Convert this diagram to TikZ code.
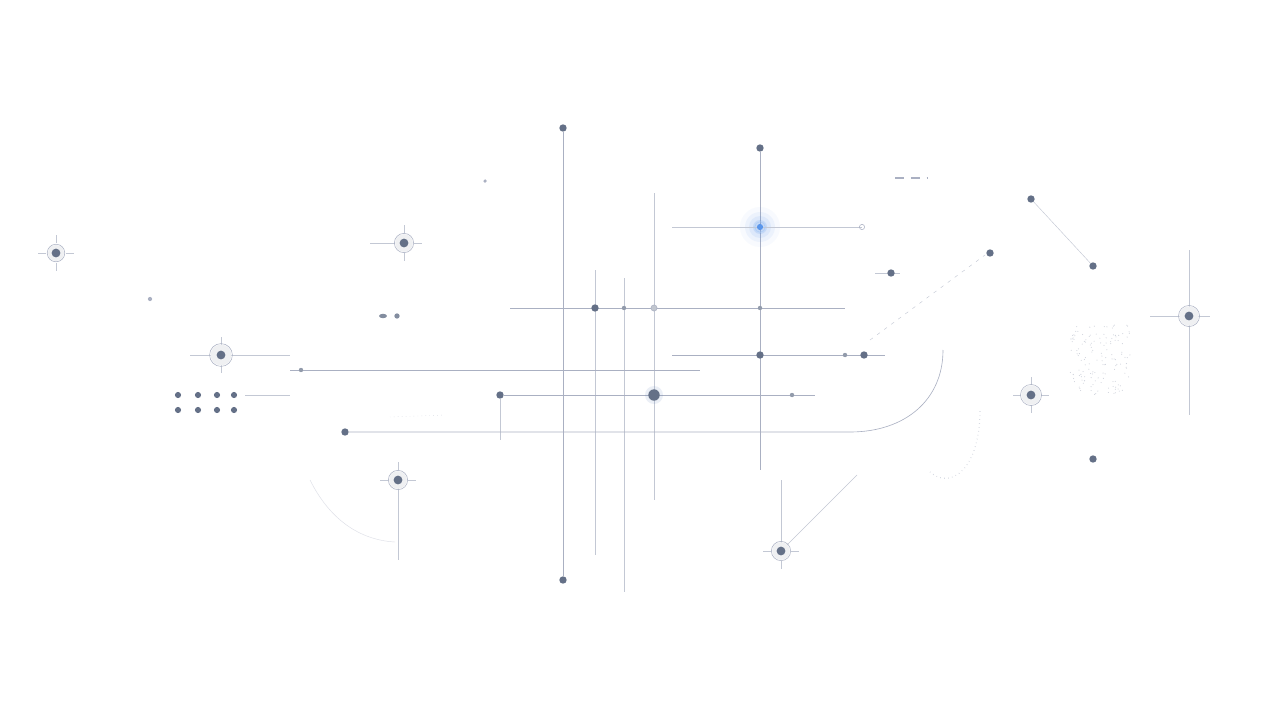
\documentclass[tikz,border=0pt]{standalone}
\usetikzlibrary{shapes.geometric}
\begin{document}
\begin{tikzpicture}[x=0.02cm,y=-0.02cm]
\definecolor{ln}{RGB}{170,176,194}
\definecolor{dt}{RGB}{100,112,135}
\definecolor{gl}{RGB}{90,150,235}
\tikzset{
 wire/.style={draw=ln,line width=0.35pt},
 faint/.style={draw=ln!70,line width=0.25pt},
 dot/.style={circle,fill=dt,inner sep=0pt,minimum size=#1},
 dot/.default=4.2pt,
 sdot/.style={circle,fill=dt!70,inner sep=0pt,minimum size=2.5pt},
 ring/.style={circle,draw=ln,line width=0.3pt,inner sep=0pt,minimum size=#1},
}
\useasboundingbox (0,0) rectangle (1280,720);
\fill[white] (0,0) rectangle (1280,720);
% long faint target lines first
\draw[faint] (1189,250)--(1189,415); \draw[faint] (1150,316)--(1210,316);
\draw[faint] (781,551)--(857,475); \draw[faint] (781,480)--(781,545);
\draw[faint] (398,480)--(398,560);
\draw[faint,draw=ln!40] (310,480) .. controls (330,520) and (360,540) .. (395,542);
\draw[faint] (221,355)--(290,355); \draw[faint] (190,355)--(210,355);
\draw[faint] (370,243)--(395,243);
% verticals
\node[dot] (v1t) at (563,128) {}; \node[dot] (v1b) at (563,580) {};
\draw[wire] (v1t) -- (v1b);
\node[dot] (v2t) at (760,148) {};
\coordinate (v2b) at (760,470);
\draw[wire] (v2t) -- (v2b);
\coordinate (a1) at (595,270); \coordinate (a2) at (595,555); \draw[faint] (a1)--(a2);
\coordinate (b1) at (624,278); \coordinate (b2) at (624,592); \draw[faint] (b1)--(b2);
\coordinate (c1) at (654,193); \coordinate (c2) at (654,500); \draw[faint] (c1)--(c2);
% glow
\foreach \r/\o in {20/0.04,15/0.07,11/0.1,7/0.18}{\fill[gl,opacity=\o] (760,227) circle (\r);}
\coordinate (h1a) at (672,227); \coordinate (h1b) at (862,227);
\draw[faint] (h1a)--(h1b);
\node[ring=6pt,draw=gl!50] at (760,227) {};
\node[circle,fill=gl,inner sep=0pt,minimum size=3.5pt] (g) at (760,227) {};
\node[ring=3pt] at (862,227) {};
% y=308
\coordinate (r1a) at (510,308); \coordinate (r1b) at (845,308); \draw[wire] (r1a)--(r1b);
\node[dot] at (595,308) {}; \node[sdot] at (624,308) {}; \node[ring=3.5pt,fill=dt!40] at (654,308) {}; \node[sdot] at (760,308) {};
% y=355
\coordinate (r2a) at (672,355); \coordinate (r2b) at (885,355); \draw[wire] (r2a)--(r2b);
\node[dot] at (760,355) {}; \node[dot] at (864,355) {}; \node[sdot] at (845,355) {};
% y=370
\coordinate (r3a) at (290,370); \coordinate (r3b) at (700,370); \draw[wire] (r3a)--(r3b);
\node[sdot] at (301,370) {};
% y=395
\node[dot] (d500) at (500,395) {}; \coordinate (r4b) at (815,395); \draw[wire] (d500)--(r4b);
\coordinate (v5b) at (500,440); \draw[faint] (d500)--(v5b);
\fill[gl!50!dt,opacity=0.12] (654,395) circle (9);
\node[dot=6.5pt] at (654,395) {}; \node[sdot] at (792,395) {};
% bottom line with curve
\node[dot] (d345) at (345,432) {};
\coordinate (cv) at (943,350);
\draw[wire] (d345) -- (850,432) .. controls (905,432) and (943,400) .. (cv);
\draw[faint,dash pattern=on 2pt off 3pt] (870,340) -- (985,255);
\draw[faint] (875,273) -- (900,273);
\node[dot] at (990,253) {}; \node[dot] (d891) at (891,273) {};
% diagonal pair
\node[dot] (e1) at (1031,199) {}; \node[dot] (e2) at (1093,266) {}; \draw[faint] (e1)--(e2);
% targets
\foreach \x/\y/\s in {1189/316/12,1031/395/12,781/551/11,398/480/11,221/355/13,404/243/11,56/253/10}{
 \draw[faint] (\x-18,\y)--(\x-10,\y); \draw[faint] (\x+10,\y)--(\x+18,\y);
 \draw[faint] (\x,\y-18)--(\x,\y-10); \draw[faint] (\x,\y+10)--(\x,\y+18);
 \fill[white] (\x,\y) circle (\s*0.8);
 \fill[dt,opacity=0.1] (\x,\y) circle (\s*0.8);
 \node[ring=\s pt] at (\x,\y) {}; \node[dot=5pt] at (\x,\y) {};}
\node[dot] at (1093,459) {};
% dot rows
\foreach \x in {178,198,217,234}{\node[dot=3.5pt] at (\x,395) {}; \node[dot=3.5pt] at (\x,410) {};}
\draw[faint] (245,395)--(290,395);
\node[ellipse,fill=dt!80,inner sep=0pt,minimum width=4.5pt,minimum height=2.5pt] at (383,316) {};
\node[ellipse,fill=dt!80,inner sep=0pt,minimum width=3pt,minimum height=3pt] at (397,316) {};
\draw[ln,line width=1pt,dash pattern=on 5pt off 4pt] (895,178)--(927,178);
% stipple cloud
\foreach \i in {1,...,140}{\pgfmathsetmacro\xx{1100+30*rand}\pgfmathsetmacro\yy{360+35*rand}
 \fill[ln!60] (\xx,\yy) circle (0.3pt);}
\draw[faint,dotted,line width=0.6pt] (930,472) .. controls (950,490) and (980,470) .. (980,410);
\draw[faint,dotted] (390,417)--(445,415);
\fill[ln] (150,299) circle (1.2pt); \fill[ln] (485,181) circle (1pt);
\end{tikzpicture}
\end{document}
